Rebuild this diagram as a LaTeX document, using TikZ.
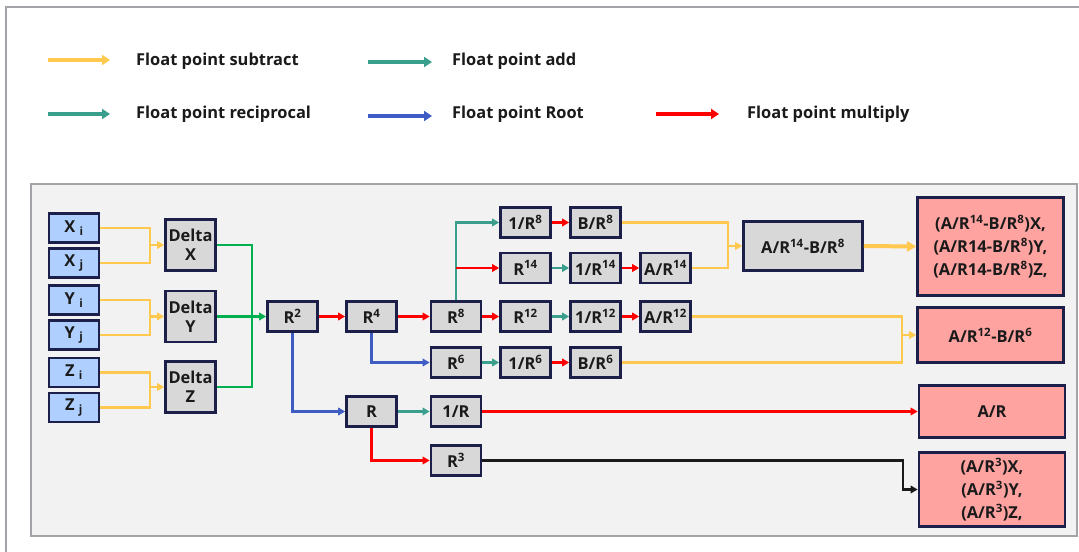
\documentclass[tikz,border=0pt]{standalone}
\usepackage{fontspec}
\setmainfont{Open Sans}
\usetikzlibrary{arrows.meta,calc}

\definecolor{cYel}{HTML}{FFC94F}
\definecolor{cTeal}{HTML}{3A9E8C}
\definecolor{cGreen}{HTML}{00B050}
\definecolor{cBlue}{HTML}{3F5BC4}
\definecolor{cRed}{HTML}{FF0000}
\definecolor{cInk}{HTML}{1A1A1A}
\definecolor{cNavy}{HTML}{1B1F4A}
\definecolor{cIn}{HTML}{AFCFFF}
\definecolor{cBox}{HTML}{D8D8D8}
\definecolor{cOut}{HTML}{FFA3A1}
\definecolor{cPanel}{HTML}{F2F2F2}
\definecolor{cFrame}{HTML}{A3A3AA}

\tikzset{
  box/.style={draw=cNavy, line width=2.6bp, inner sep=0pt, align=center,
    text=cInk, font=\fontsize{16.5}{19}\selectfont\bfseries},
  inbox/.style={box, fill=cIn, minimum width=50bp, minimum height=29bp},
  opbox/.style={box, fill=cBox, minimum width=50bp, minimum height=30bp},
  dbox/.style={box, fill=cBox, minimum width=50bp, minimum height=51bp},
  outbox/.style={box, fill=cOut, minimum width=146bp,
    font=\fontsize{16.5}{23}\selectfont\bfseries},
  link/.style={line width=2.8bp, -{Triangle[length=7bp,width=7.5bp]}},
  wire/.style={line width=2.8bp},
  legarrow/.style={line width=4bp, -{Triangle[length=8bp,width=10bp]}},
  legtext/.style={anchor=west, inner sep=0pt, text=cInk,
    font=\fontsize{16.5}{19}\selectfont\bfseries},
}

\begin{document}
\begin{tikzpicture}[x=1bp, y=-1bp]
% page and outer frame
\useasboundingbox (0,0) rectangle (1079,552);
\fill[white] (0,0) rectangle (1079,552);
\draw[cFrame, line width=1.5bp] (6,552) -- (6,7) -- (1079,7);

% legend
\coordinate (l1a) at (48,60);  \coordinate (l1b) at (110,60);
\coordinate (l2a) at (368,62); \coordinate (l2b) at (432,62);
\coordinate (l3a) at (48,114); \coordinate (l3b) at (110,114);
\coordinate (l4a) at (368,116); \coordinate (l4b) at (432,116);
\coordinate (l5a) at (656,114); \coordinate (l5b) at (719,114);
\draw[legarrow, cYel]  (l1a) -- (l1b);
\draw[legarrow, cTeal] (l2a) -- (l2b);
\draw[legarrow, cTeal] (l3a) -- (l3b);
\draw[legarrow, cBlue] (l4a) -- (l4b);
\draw[legarrow, cRed]  (l5a) -- (l5b);
\node[legtext] (t1) at (136,61)  {Float point subtract};
\node[legtext] (t2) at (452,61)  {Float point add};
\node[legtext] (t3) at (136,114) {Float point reciprocal};
\node[legtext] (t4) at (452,114) {Float point Root};
\node[legtext] (t5) at (747,114) {Float point multiply};

% panel
\draw[fill=cPanel, draw=cFrame, line width=1.5bp] (31,184) rectangle (1077,536);

% inputs
\node[inbox] (xi) at (74,228)   {X \textsubscript{i}};
\node[inbox] (xj) at (74,263)   {X \textsubscript{j}};
\node[inbox] (yi) at (74,300)   {Y \textsubscript{i}};
\node[inbox] (yj) at (74,335)   {Y \textsubscript{j}};
\node[inbox] (zi) at (74,372.5) {Z \textsubscript{i}};
\node[inbox] (zj) at (74,407.5) {Z \textsubscript{j}};

% differences
\node[dbox] (dx) at (190.5,245)   {Delta\\X};
\node[dbox] (dy) at (190.5,316.5) {Delta\\Y};
\node[dbox] (dz) at (190.5,387)   {Delta\\Z};

% powers of R
\node[opbox] (r2)  at (292.5,316.5) {R\textsuperscript{2}};
\node[opbox] (r4)  at (371.5,316.5) {R\textsuperscript{4}};
\node[opbox] (r8)  at (456,316.5)   {R\textsuperscript{8}};
\node[opbox] (r12) at (525.5,316.5) {R\textsuperscript{12}};
\node[opbox] (ir12) at (595.5,316.5) {1/R\textsuperscript{12}};
\node[opbox] (ar12) at (665.5,316.5) {A/R\textsuperscript{12}};

\node[opbox] (ir8) at (525.5,222.5) {1/R\textsuperscript{8}};
\node[opbox] (br8) at (595.5,222.5) {B/R\textsuperscript{8}};

\node[opbox] (r14)  at (525.5,268) {R\textsuperscript{14}};
\node[opbox] (ir14) at (595.5,268) {1/R\textsuperscript{14}};
\node[opbox] (ar14) at (665.5,268) {A/R\textsuperscript{14}};

\node[opbox] (r6)  at (456,362.5)   {R\textsuperscript{6}};
\node[opbox] (ir6) at (525.5,362.5) {1/R\textsuperscript{6}};
\node[opbox] (br6) at (595.5,362.5) {B/R\textsuperscript{6}};

\node[opbox] (rr) at (371.5,411.5) {R};
\node[opbox] (ir) at (456,411.5)   {1/R};
\node[opbox] (r3) at (456,460.5)   {R\textsuperscript{3}};

\node[opbox, minimum width=119bp, minimum height=49bp] (ab) at (803,246)
  {A/R\textsuperscript{14}-B/R\textsuperscript{8}};

% results
\node[outbox, minimum height=98bp] (o1) at (990.5,246.5)
  {(A/R\textsuperscript{14}-B/R\textsuperscript{8})X,\\
   (A/R14-B/R\textsuperscript{8})Y,\\
   (A/R14-B/R\textsuperscript{8})Z,};
\node[outbox, minimum height=55bp] (o2) at (990.5,335)
  {A/R\textsuperscript{12}-B/R\textsuperscript{6}};
\node[outbox, minimum height=52bp] (o3) at (992,411.5) {A/R};
\node[outbox, minimum height=74bp] (o4) at (992,489.5)
  {(A/R\textsuperscript{3})X,\\(A/R\textsuperscript{3})Y,\\(A/R\textsuperscript{3})Z,};

% junction points
\coordinate (jx) at (150,245);
\coordinate (jy) at (150,316.5);
\coordinate (jz) at (150,387);
\coordinate (jg) at (252,316.5);
\coordinate (jab) at (728,246);
\coordinate (jo2) at (902,335);
\coordinate (jo4) at (903,489.5);

% subtractions of the coordinates
\draw[wire, cYel] (xi.east) -| (jx) |- (xj.east);
\draw[link, cYel] (jx) -- (dx.west);
\draw[wire, cYel] (yi.east) -| (jy) |- (yj.east);
\draw[link, cYel] (jy) -- (dy.west);
\draw[wire, cYel] (zi.east) -| (jz) |- (zj.east);
\draw[link, cYel] (jz) -- (dz.west);

% sum of squares
\draw[wire, cGreen] (dx.east) -| (jg) |- (dz.east);
\draw[link, cGreen] (dy.east) -- (r2.west);

% chain of products and reciprocals
\draw[link, cRed] (r2) -- (r4);
\draw[link, cRed] (r4) -- (r8);
\draw[link, cRed] (r8) -- (r12);
\draw[link, cTeal] (r12) -- (ir12);
\draw[link, cRed] (ir12) -- (ar12);
\draw[link, cTeal] (r8.north) |- (ir8.west);
\draw[link, cRed] (r8.north |- r14.west) -- (r14.west);
\draw[link, cRed] (ir8) -- (br8);
\draw[link, cTeal] (r14) -- (ir14);
\draw[link, cRed] (ir14) -- (ar14);
\draw[link, cBlue] (r4.south) |- (r6.west);
\draw[link, cTeal] (r6) -- (ir6);
\draw[link, cRed] (ir6) -- (br6);
\draw[link, cBlue] (r2.south) |- (rr.west);
\draw[link, cTeal] (rr) -- (ir);
\draw[link, cRed] (rr.south) |- (r3.west);

% results
\draw[wire, cYel] (br8.east) -| (jab) |- (ar14.east);
\draw[link, cYel] (jab) -- (ab.west);
\draw[cYel, line width=4bp, -{Triangle[length=9bp,width=10bp]}] (ab.east) -- (o1.west);
\draw[wire, cYel] (ar12.east) -| (jo2) |- (br6.east);
\draw[link, cYel] (jo2) -- (o2.west);
\draw[link, cRed] (ir.east) -- (o3.west);
\draw[link, cInk] (r3.east) -| (jo4) -- (o4.west);
\end{tikzpicture}
\end{document}
